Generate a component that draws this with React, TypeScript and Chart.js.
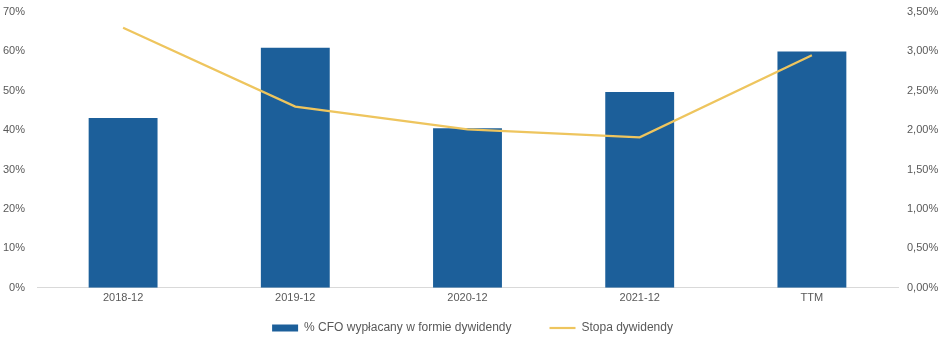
import React, { useEffect, useRef } from "react";
import { Chart, registerables } from "chart.js";

Chart.register(...registerables);

const categories = ["2018-12", "2019-12", "2020-12", "2021-12", "TTM"];
const cfoPayout = [43.1, 60.9, 40.5, 49.7, 60.0];
const dividendYield = [3.3, 2.3, 2.01, 1.91, 2.95];
const leftTicks = [0, 10, 20, 30, 40, 50, 60, 70];
const rightTicks = [0, 0.5, 1, 1.5, 2, 2.5, 3, 3.5];
const seriesNames = ["% CFO wypłacany w formie dywidendy", "Stopa dywidendy"];

const BAR_COLOR = "#1C5F9A";
const LINE_COLOR = "#EEC55E";
const TEXT_COLOR = "#595959";
const FONT = "'Liberation Sans', Arial, sans-serif";
const LEGEND_GAP = 38;
const LEGEND_CENTER_Y = 328;

const legendShift = {
  id: "legendShift",
  afterLayout(chart: any) {
    const lg = chart.legend;
    if (!lg) return;
    const itemCenter = lg.top + LEGEND_GAP + 6;
    const d = itemCenter - LEGEND_CENTER_Y;
    lg.top -= d;
    lg.bottom -= d;
  },
};

export default function App() {
  const ref = useRef<HTMLCanvasElement | null>(null);

  useEffect(() => {
    if (!ref.current) return;
    const chart = new Chart(ref.current, {
      type: "bar",
      data: {
        labels: categories,
        datasets: [
          {
            type: "bar",
            label: seriesNames[0],
            data: cfoPayout,
            backgroundColor: BAR_COLOR,
            borderWidth: 0,
            yAxisID: "y",
            order: 1,
            categoryPercentage: 1,
            barPercentage: 0.4,
            pointStyle: "rect",
          } as any,
          {
            type: "line",
            label: seriesNames[1],
            data: dividendYield,
            borderColor: LINE_COLOR,
            backgroundColor: LINE_COLOR,
            borderWidth: 2.2,
            pointRadius: 0,
            tension: 0,
            yAxisID: "y1",
            order: 0,
            pointStyle: "line",
          } as any,
        ],
      },
      plugins: [legendShift],
      options: {
        animation: false,
        responsive: true,
        maintainAspectRatio: false,
        layout: { padding: { top: 12, left: 0, right: 0, bottom: -25 } },
        plugins: {
          tooltip: { enabled: false },
          legend: {
            position: "bottom",
            labels: {
              usePointStyle: true,
              pointStyleWidth: 26,
              boxHeight: 7,
              padding: LEGEND_GAP,
              color: TEXT_COLOR,
              font: { family: FONT, size: 12 },
              sort: (a: any, b: any) => a.datasetIndex - b.datasetIndex,
            },
          },
        },
        scales: {
          x: {
            type: "category",
            grid: { display: false, drawTicks: false },
            border: { display: true, color: "#D9D9D9", width: 1 },
            ticks: { display: true, color: TEXT_COLOR, font: { family: FONT, size: 11 }, padding: 4 },
          },
          y: {
            position: "left",
            min: 0,
            max: 70,
            afterBuildTicks: (scale: any) => {
              scale.ticks = leftTicks.map((v) => ({ value: v }));
            },
            grid: { display: false, drawTicks: false },
            border: { display: false },
            ticks: {
              color: TEXT_COLOR,
              font: { family: FONT, size: 11 },
              padding: 12,
              callback: (v: any) => `${v}%`,
            },
            afterFit: (scale: any) => {
              scale.width = 37;
              scale.paddingTop = 0;
              scale.paddingBottom = 0;
            },
          },
          y1: {
            position: "right",
            min: 0,
            max: 3.5,
            afterBuildTicks: (scale: any) => {
              scale.ticks = rightTicks.map((v) => ({ value: v }));
            },
            grid: { display: false, drawTicks: false },
            border: { display: false },
            ticks: {
              color: TEXT_COLOR,
              font: { family: FONT, size: 11 },
              padding: 9,
              callback: (v: any) => `${Number(v).toFixed(2).replace(".", ",")}%`,
            },
            afterFit: (scale: any) => {
              scale.width = 47;
              scale.paddingTop = 0;
              scale.paddingBottom = 0;
            },
          },
        },
      } as any,
    });
    return () => chart.destroy();
  }, []);

  return (
    <div style={{ position: "fixed", left: 0, top: 0, width: 945, height: 344, background: "#fff" }}>
      <canvas ref={ref} />
    </div>
  );
}
